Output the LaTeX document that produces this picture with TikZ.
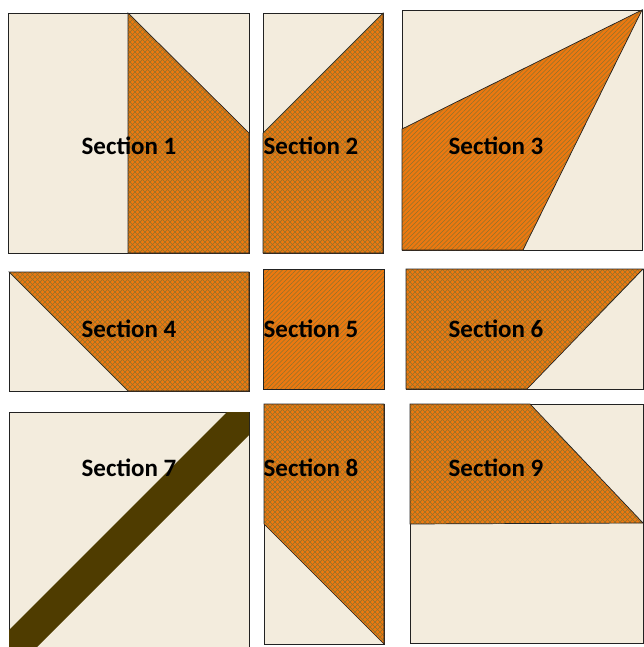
\documentclass[tikz,border=0pt]{standalone}
\usepackage{fontspec}
\setmainfont{Carlito}
\usetikzlibrary{patterns.meta}
\definecolor{cream}{HTML}{F3ECDD}
\definecolor{orng}{HTML}{EC7810}
\definecolor{hatch}{HTML}{8E742E}
\definecolor{band}{HTML}{4F3C00}
\definecolor{edge}{HTML}{222222}
\tikzdeclarepattern{
  name=xcross,
  type=uncolored,
  bottom left={(-.1pt,-.1pt)},
  top right={(5.1pt,5.1pt)},
  tile size={(5pt,5pt)},
  code={
    \draw[line width=0.5pt] (0pt,0pt) -- (5pt,5pt);
    \draw[line width=0.5pt] (0pt,5pt) -- (5pt,0pt);
  }
}
\tikzdeclarepattern{
  name=xdiag,
  type=uncolored,
  bottom left={(-.1pt,-.1pt)},
  top right={(4.6pt,4.6pt)},
  tile size={(4.5pt,4.5pt)},
  code={
    \draw[line width=0.55pt] (0pt,0pt) -- (4.5pt,4.5pt);
  }
}
\tikzset{
  piece/.style={fill=cream, draw=edge, line width=0.9pt},
  cross/.style={preaction={fill=orng}, pattern=xcross, pattern color=hatch, draw=edge, line width=0.7pt},
  diag/.style={preaction={fill=orng}, pattern=xdiag, pattern color=hatch, draw=edge, line width=0.7pt},
  lbl/.style={font=\fontsize{25}{28}\bfseries\selectfont, text=black, inner sep=0pt}
}
\begin{document}
\begin{tikzpicture}[x=1pt,y=-1pt]
\useasboundingbox (0,0) rectangle (644,647);
\clip (0,0) rectangle (644,647);
% Section 1
\draw[piece] (8,13) rectangle (249,253);
\draw[cross] (128,13) -- (249,133) -- (249,253) -- (128,253) -- cycle;
\node[lbl] (s1) at (129,146) {Section 1};
% Section 2
\draw[piece] (263,13) rectangle (383,253);
\draw[cross] (263,133) -- (383,13) -- (383,253) -- (263,253) -- cycle;
\node[lbl] (s2) at (311,146) {Section 2};
% Section 3
\draw[piece] (402,10) rectangle (642,250);
\draw[diag] (402,129) -- (642,10) -- (523,250) -- (402,250) -- cycle;
\node[lbl] (s3) at (496,146) {Section 3};
% Section 4
\draw[piece] (9,272) rectangle (249,391);
\draw[cross] (9,272) -- (249,272) -- (249,391) -- (128,391) -- cycle;
\node[lbl] (s4) at (129,329) {Section 4};
% Section 5
\draw[diag] (263,269) rectangle (384,389);
\node[lbl] (s5) at (311,329) {Section 5};
% Section 6
\draw[piece] (406,269) rectangle (643,389);
\draw[cross] (406,269) -- (643,269) -- (527,389) -- (406,389) -- cycle;
\node[lbl] (s6) at (496,329) {Section 6};
% Section 7
\draw[piece] (9,412) rectangle (249,660);
\fill[band] (227,412) -- (249,412) -- (249,435) -- (37,647) -- (9,647) -- (9,630) -- cycle;
\node[lbl] (s7) at (129,468) {Section 7};
% Section 8
\draw[piece] (264,404) rectangle (384,644);
\draw[cross] (264,404) -- (384,404) -- (384,644) -- (264,524) -- cycle;
\node[lbl] (s8) at (311,468) {Section 8};
% Section 9
\draw[piece] (410,404) rectangle (643,643);
\draw[cross] (410,404) -- (530,404) -- (643,523) -- (410,524) -- cycle;
\node[lbl] (s9) at (496,468) {Section 9};
\end{tikzpicture}
\end{document}
